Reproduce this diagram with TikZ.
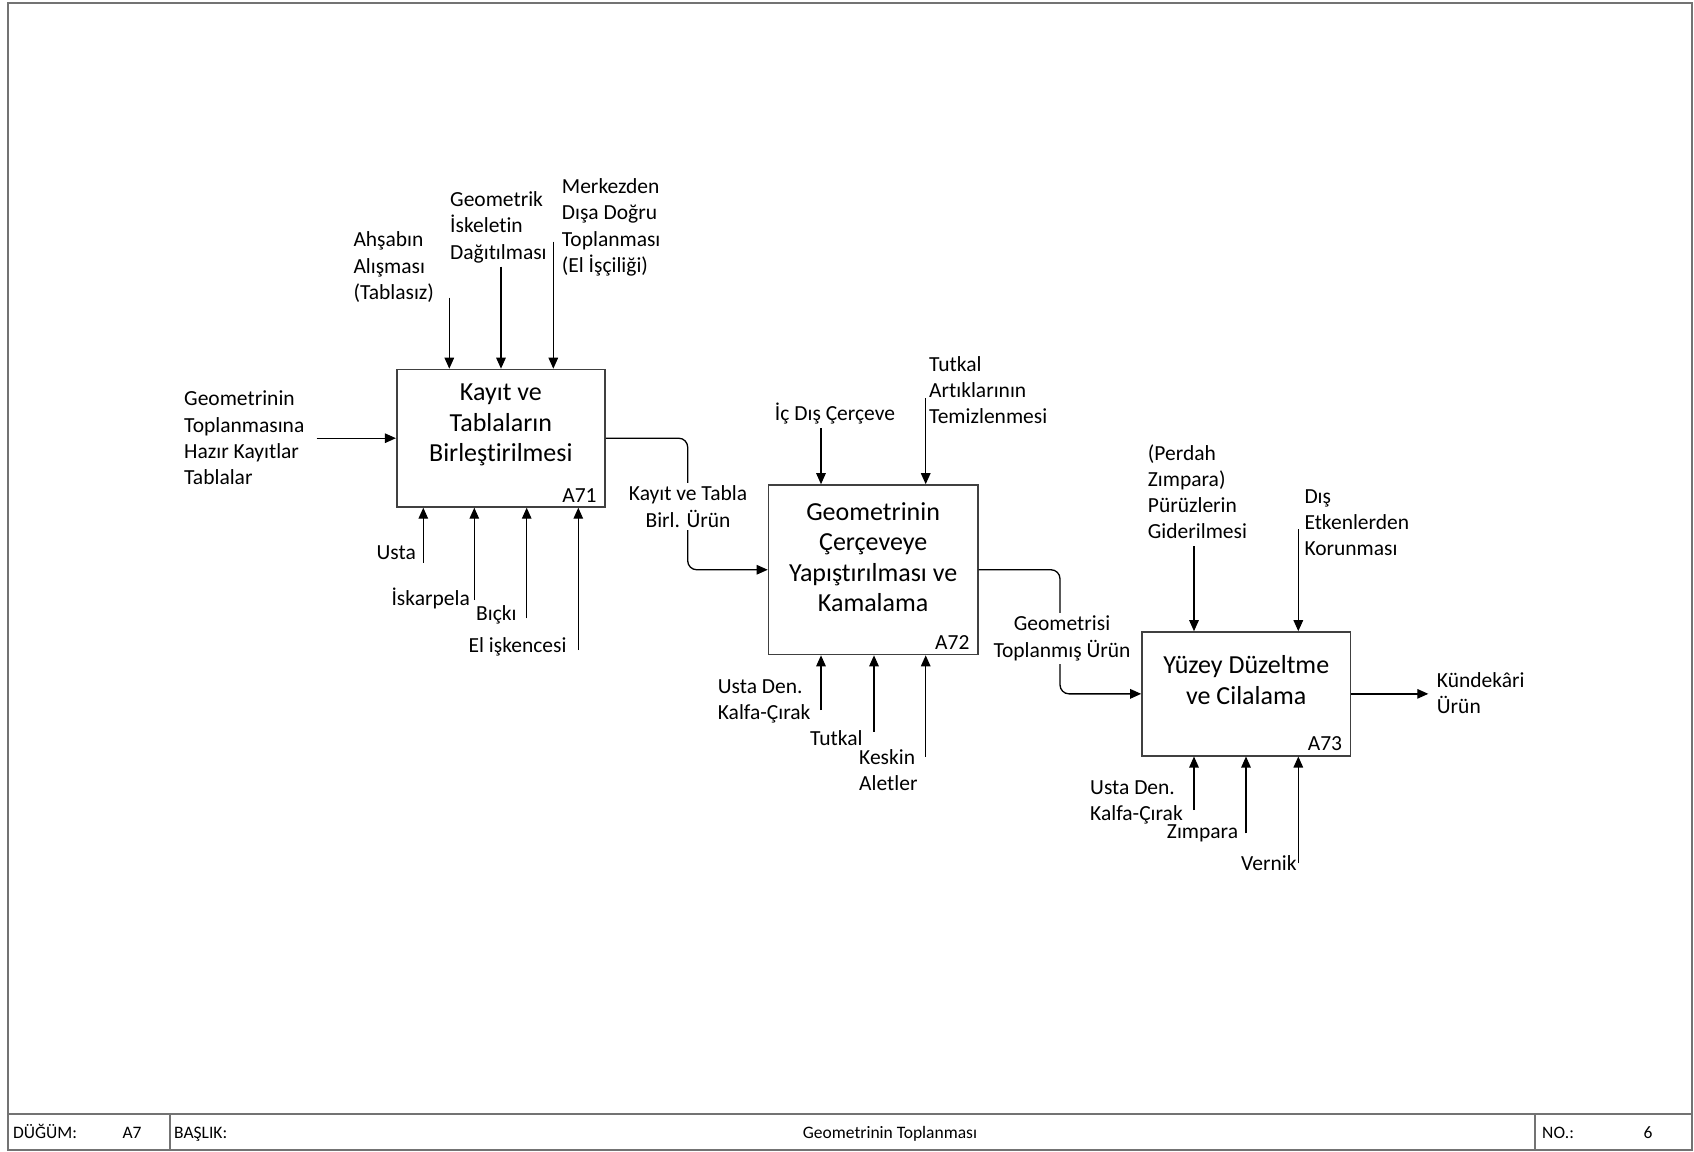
\documentclass[tikz,border=0pt]{standalone}
\usepackage{fontspec}
\setmainfont{Carlito}[Ligatures=NoCommon]
\usetikzlibrary{arrows.meta}
\begin{document}
\begin{tikzpicture}[x=1pt,y=-1pt,
 lbl/.style={font=\fontsize{21.5}{26.3}\selectfont, align=left, inner sep=0pt},
 boxtxt/.style={font=\fontsize{26}{30.5}\selectfont, align=center, inner sep=0pt},
 proc/.style={draw=black!75, line width=1.6pt, fill=white, inner sep=0pt},
 arr/.style={line width=1.3pt, -{Triangle[length=11pt,width=9.5pt]}},
 flow/.style={arr, rounded corners=9pt},
 frame/.style={draw=black!55, line width=2pt},
 foot/.style={font=\fontsize{17.5}{20}\selectfont, inner sep=0pt},
 tag/.style={font=\fontsize{21.5}{26}\selectfont, inner sep=0pt, anchor=east},
 gaplbl/.style={lbl, align=center, fill=white, inner xsep=2pt, inner ysep=3pt}]

\useasboundingbox (0,0) rectangle (1694,1151);

% frame and footer
\draw[frame] (8,2.5) rectangle (1692,1150);
\draw[frame] (8,1113.5) -- (1692,1113.5);
\draw[frame] (170,1113.5) -- (170,1150);
\draw[frame] (1535,1113.5) -- (1535,1150);
\node[foot, anchor=base west] (fdugum) at (13,1138) {DÜĞÜM:};
\node[foot, anchor=base] (fa7) at (132,1138) {A7};
\node[foot, anchor=base west] (fbaslik) at (174,1138) {BAŞLIK:};
\node[foot, anchor=base] (ftitle) at (890,1138) {Geometrinin Toplanması};
\node[foot, anchor=base west] (fno) at (1542,1138) {NO.:};
\node[foot, anchor=base] (fsix) at (1648,1138) {6};

% boxes
\node[proc, minimum width=208.3pt, minimum height=137.4pt] (b1) at (500.85,438.2) {};
\node[boxtxt] (t1) at (500.85,425) {Kayıt ve\\Tablaların\\Birleştirilmesi};
\node[tag] (a71) at ([xshift=-9pt,yshift=12.5pt]b1.south east) {A71};

\node[proc, minimum width=209.3pt, minimum height=169.5pt] (b2) at (873.15,569.75) {};
\node[boxtxt] (t2) at (873.15,557) {Geometrinin\\Çerçeveye\\Yapıştırılması ve\\Kamalama};
\node[tag] (a72) at ([xshift=-9pt,yshift=12.5pt]b2.south east) {A72};

\node[proc, minimum width=208.5pt, minimum height=123.7pt] (b3) at (1246.25,693.85) {};
\node[boxtxt] (t3) at (1246.25,680) {Yüzey Düzeltme\\ve Cilalama};
\node[tag] (a73) at ([xshift=-9pt,yshift=12.5pt]b3.south east) {A73};

% ---- A71 ----
\coordinate (in1) at (316.7,438.2);
\draw[arr] (in1) -- (b1.west);
\node[lbl, anchor=west] (lin1) at (184,438) {Geometrinin\\Toplanmasına\\Hazır Kayıtlar\\Tablalar};

\coordinate (c11) at (449.3,297.7);
\coordinate (c12) at (501,266.7);
\coordinate (c13) at (553.3,241.7);
\draw[arr] (c11) -- (c11 |- b1.north);
\draw[arr] (c12) -- (c12 |- b1.north);
\draw[arr] (c13) -- (c13 |- b1.north);
\node[lbl, anchor=west] (lc11) at (353.3,267.2) {Ahşabın\\Alışması\\(Tablasız)};
\node[lbl, anchor=west] (lc12) at (450,227.3) {Geometrik\\İskeletin\\Dağıtılması};
\node[lbl, anchor=west] (lc13) at (561.7,227.5) {Merkezden\\Dışa Doğru\\Toplanması\\(El İşçiliği)};

\coordinate (m11) at (423.3,562.7);
\coordinate (m12) at (474.3,600);
\coordinate (m13) at (526.7,618.3);
\coordinate (m14) at (578.3,650);
\draw[arr] (m11) -- (m11 |- b1.south);
\draw[arr] (m12) -- (m12 |- b1.south);
\draw[arr] (m13) -- (m13 |- b1.south);
\draw[arr] (m14) -- (m14 |- b1.south);
\node[lbl, anchor=east] (lm11) at (416,553) {Usta};
\node[lbl, anchor=east] (lm12) at (470,598) {İskarpela};
\node[lbl, anchor=west] (lm13) at (476,615) {Bıçkı};
\node[lbl, anchor=east] (lm14) at (566.7,646.7) {El işkencesi};

% A71 -> A72
\coordinate (k1) at (687.7,500);
\draw[flow] (b1.east) -| (k1) |- (b2.west);
\node[gaplbl] (lk1) at (688,506.7) {Kayıt ve Tabla\\Birl. Ürün};

% ---- A72 ----
\coordinate (c21) at (821,428.3);
\coordinate (c22) at (925.7,398.3);
\draw[arr] (c21) -- (c21 |- b2.north);
\draw[arr] (c22) -- (c22 |- b2.north);
\node[lbl] (lc21) at (835,414) {İç Dış Çerçeve};
\node[lbl, anchor=west] (lc22) at (929,390) {Tutkal\\Artıklarının\\Temizlenmesi};

\coordinate (m21) at (821,710);
\coordinate (m22) at (874,731.7);
\coordinate (m23) at (925.7,756.7);
\draw[arr] (m21) -- (m21 |- b2.south);
\draw[arr] (m22) -- (m22 |- b2.south);
\draw[arr] (m23) -- (m23 |- b2.south);
\node[lbl, anchor=west] (lm21) at (717.7,701.3) {Usta Den.\\Kalfa-Çırak};
\node[lbl, anchor=east] (lm22) at (862.7,738) {Tutkal};
\node[lbl, anchor=west] (lm23) at (859,770.3) {Keskin\\Aletler};

% A72 -> A73
\coordinate (k2) at (1060,640);
\draw[flow] (b2.east) -| (k2) |- (b3.west);
\node[gaplbl] (lk2) at (1062,638.5) {Geometrisi\\Toplanmış Ürün};

% ---- A73 ----
\coordinate (c31) at (1194,546);
\coordinate (c32) at (1298.3,529);
\draw[arr] (c31) -- (c31 |- b3.north);
\draw[arr] (c32) -- (c32 |- b3.north);
\node[lbl, anchor=west] (lc31) at (1147.7,491.7) {(Perdah\\Zımpara)\\Pürüzlerin\\Giderilmesi};
\node[lbl, anchor=west] (lc32) at (1304.3,522.5) {Dış\\Etkenlerden\\Korunması};

\coordinate (m31) at (1194,810);
\coordinate (m32) at (1246,833.3);
\coordinate (m33) at (1298.3,863.3);
\draw[arr] (m31) -- (m31 |- b3.south);
\draw[arr] (m32) -- (m32 |- b3.south);
\draw[arr] (m33) -- (m33 |- b3.south);
\node[lbl, anchor=west] (lm31) at (1090,802.5) {Usta Den.\\Kalfa-Çırak};
\node[lbl, anchor=east] (lm32) at (1238.3,833.3) {Zımpara};
\node[lbl, anchor=east] (lm33) at (1296.7,863.3) {Vernik};

% output
\coordinate (out3) at (1428.3,693.85);
\draw[arr] (b3.east) -- (out3);
\node[lbl, anchor=west] (lout3) at (1436.7,693) {Kündekâri\\Ürün};
\end{tikzpicture}
\end{document}
